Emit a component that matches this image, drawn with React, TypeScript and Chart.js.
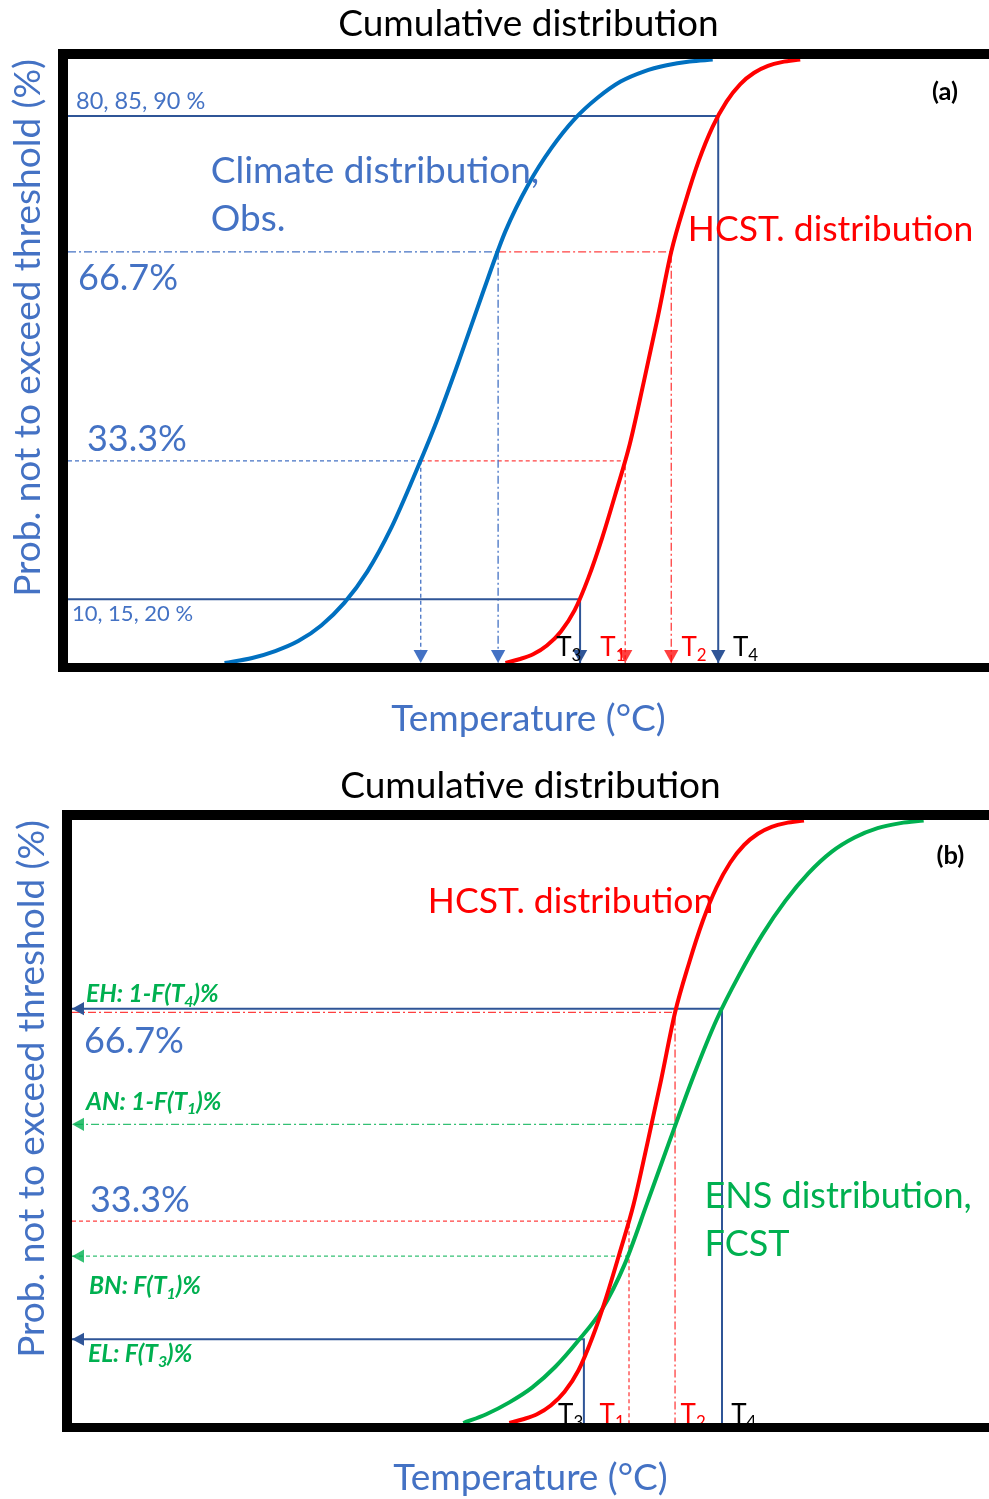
import React, { useEffect, useRef } from 'react';
import { Chart, registerables } from 'chart.js';

Chart.register(...registerables);

const FONT = 'Lato, "Open Sans", sans-serif';
const OBS_BLUE = '#0070C0';
const HCST_RED = '#FF0000';
const ENS_GREEN = '#00B050';
const GUIDE_BLUE = '#2F5597';
const TEXT_BLUE = '#4472C4';
const RED_THIN = 'rgba(255,0,0,0.75)';
const GREEN_THIN = 'rgba(0,176,80,0.8)';
const DASH = [4, 3];
const DASH_DOT = [8, 3, 2, 3];

// Axis ranges (probability in %, temperature in arbitrary units)
const PROB_MIN = 1;
const PROB_MAX = 97.5;
const TEMP_MIN = 0;
const TEMP_MAX_A = 100;
const TEMP_MAX_B = 99.6;

// Thresholds on the temperature axis
const T3 = 55.6;
const T1 = 60.5;
const T2 = 65.5;
const T4 = 70.6;

// Probability levels (%)
const TERCILE_LOW = 33.3;
const TERCILE_HIGH = 66.7;
const BAND_LOW = 11.2; // 10, 15, 20 %
const BAND_HIGH = 88.4; // 80, 85, 90 %
const OBS_AT_TERCILE_LOW = 38.3;
const OBS_AT_TERCILE_HIGH = 46.7;
const EH_LEVEL = 67.3;
const AN_LEVEL = 48.8;
const BN_LEVEL = 27.7;
const EL_LEVEL = 14.4;

// Cumulative distribution curves
const climateTemp = [17, 20, 22.5, 25, 27.5, 30, 32.5, 35, 37.5, 40, 42.5, 45, 47.5, 50, 52.5, 55, 57.5, 60, 62.5, 65, 67.5, 70];
const climateProb = [1.0, 1.8, 2.9, 4.5, 7.0, 10.6, 15.6, 22.3, 30.6, 39.5, 49.5, 60.0, 70.0, 77.5, 83.3, 87.9, 91.3, 93.9, 95.5, 96.5, 97.1, 97.4];
const hcstTemp = [47.5, 49, 50.5, 52, 53.5, 55, 56.5, 58, 59.5, 61, 62.5, 64, 65.5, 67, 68.5, 70, 71.5, 73, 74.5, 76, 77.5, 79.5];
const hcstProb = [1.0, 1.6, 2.4, 3.8, 6.0, 9.4, 14.6, 21.0, 28.3, 36.0, 45.8, 56.0, 66.7, 74.5, 81.3, 86.7, 90.7, 93.5, 95.3, 96.4, 97.0, 97.4];
const ensTemp = [42.5, 45, 47.5, 50, 52.5, 55, 57.5, 60, 62.5, 65, 67.5, 70, 72.5, 75, 77.5, 80, 82.5, 85, 87.5, 90, 92.5];
const ensProb = [1.0, 2.4, 4.3, 6.7, 10.0, 14.2, 19.0, 26.3, 36.3, 46.5, 56.5, 65.5, 72.8, 79.2, 84.6, 89.0, 92.4, 94.7, 96.2, 97.0, 97.4];

type Part = { t: string; sub?: boolean };
type Label = {
  x: number;
  y: number;
  parts: Part[];
  size: number;
  color: string;
  bold?: boolean;
  italic?: boolean;
};

const plain = (t: string): Part[] => [{ t }];
const tSub = (n: string): Part[] => [{ t: 'T' }, { t: n, sub: true }];

const labelsA: Label[] = [
  { x: 0.87, y: 90.8, parts: plain('80, 85, 90 %'), size: 23.5, color: TEXT_BLUE },
  { x: 15.5, y: 79.6, parts: plain('Climate distribution,'), size: 37, color: TEXT_BLUE },
  { x: 15.5, y: 71.9, parts: plain('Obs.'), size: 37, color: TEXT_BLUE },
  { x: 1.09, y: 62.4, parts: plain(`${TERCILE_HIGH}%`), size: 36, color: TEXT_BLUE },
  { x: 2.06, y: 36.8, parts: plain(`${TERCILE_LOW}%`), size: 36, color: TEXT_BLUE },
  { x: 67.3, y: 70.3, parts: plain('HCST. distribution'), size: 35.5, color: HCST_RED },
  { x: 0.43, y: 8.8, parts: plain('10, 15, 20 %'), size: 22, color: TEXT_BLUE },
  { x: 53.0, y: 3.4, parts: tSub('3'), size: 26, color: '#000' },
  { x: 57.8, y: 3.4, parts: tSub('1'), size: 26, color: HCST_RED },
  { x: 66.6, y: 3.4, parts: tSub('2'), size: 26, color: HCST_RED },
  { x: 72.2, y: 3.4, parts: tSub('4'), size: 26, color: '#000' },
  { x: 93.8, y: 92.2, parts: plain('(a)'), size: 25.5, bold: true, color: '#000' },
];

const labelsB: Label[] = [
  { x: 38.65, y: 84.4, parts: plain('HCST. distribution'), size: 35.5, color: HCST_RED },
  {
    x: 1.52, y: 69.6, size: 24.5, color: ENS_GREEN, bold: true, italic: true,
    parts: [{ t: 'EH: 1-F(T' }, { t: '4', sub: true }, { t: ')%' }],
  },
  { x: 1.3, y: 62.0, parts: plain(`${TERCILE_HIGH}%`), size: 36, color: TEXT_BLUE },
  {
    x: 1.52, y: 52.4, size: 24.5, color: ENS_GREEN, bold: true, italic: true,
    parts: [{ t: 'AN: 1-F(T' }, { t: '1', sub: true }, { t: ')%' }],
  },
  { x: 1.95, y: 36.7, parts: plain(`${TERCILE_LOW}%`), size: 36, color: TEXT_BLUE },
  {
    x: 1.85, y: 22.9, size: 24.5, color: ENS_GREEN, bold: true, italic: true,
    parts: [{ t: 'BN: F(T' }, { t: '1', sub: true }, { t: ')%' }],
  },
  {
    x: 1.74, y: 12.0, size: 24.5, color: ENS_GREEN, bold: true, italic: true,
    parts: [{ t: 'EL: F(T' }, { t: '3', sub: true }, { t: ')%' }],
  },
  { x: 68.7, y: 37.2, parts: plain('ENS distribution,'), size: 36, color: ENS_GREEN },
  { x: 68.7, y: 29.6, parts: plain('FCST'), size: 36, color: ENS_GREEN },
  { x: 52.8, y: 2.3, parts: tSub('3'), size: 26, color: '#000' },
  { x: 57.3, y: 2.3, parts: tSub('1'), size: 26, color: HCST_RED },
  { x: 66.1, y: 2.3, parts: tSub('2'), size: 26, color: HCST_RED },
  { x: 71.6, y: 2.3, parts: tSub('4'), size: 26, color: '#000' },
  { x: 93.9, y: 91.7, parts: plain('(b)'), size: 25.5, bold: true, color: '#000' },
];

const curve = (label: string, xs: number[], ys: number[], color: string) => ({
  label,
  data: xs.map((x, i) => ({ x, y: ys[i] })),
  borderColor: color,
  borderWidth: 4,
  pointRadius: 0,
  cubicInterpolationMode: 'monotone',
  fill: false,
});

const guide = (
  label: string,
  pts: [number, number][],
  color: string,
  width: number,
  dash: number[],
  arrow = 0,
) => ({
  label,
  data: pts.map(([x, y]) => ({ x, y })),
  borderColor: color,
  borderWidth: width,
  borderDash: dash,
  pointRadius: 0,
  tension: 0,
  fill: false,
  arrow,
});

function drawLabel(ctx: CanvasRenderingContext2D, chart: any, lab: Label) {
  let x = chart.scales.x.getPixelForValue(lab.x);
  const y = chart.scales.y.getPixelForValue(lab.y);
  const style = `${lab.italic ? 'italic ' : ''}${lab.bold ? 'bold ' : ''}`;
  ctx.textBaseline = 'middle';
  ctx.textAlign = 'left';
  ctx.fillStyle = lab.color;
  for (const p of lab.parts) {
    const size = p.sub ? lab.size * 0.65 : lab.size;
    ctx.font = `${style}${size}px ${FONT}`;
    ctx.fillText(p.t, x, p.sub ? y + lab.size * 0.3 : y);
    x += ctx.measureText(p.t).width;
  }
}

// Arrowheads, text annotations and the heavy black frame
const makeOverlay = (labels: Label[]) => ({
  id: 'overlay',
  afterDatasetsDraw(chart: any) {
    const { ctx, chartArea } = chart;
    ctx.save();
    chart.data.datasets.forEach((ds: any, i: number) => {
      if (!ds.arrow) return;
      const pts = chart.getDatasetMeta(i).data;
      const a = pts[pts.length - 2];
      const b = pts[pts.length - 1];
      const ang = Math.atan2(b.y - a.y, b.x - a.x);
      const L = ds.arrow;
      const W = ds.arrow * 0.55;
      const c = Math.cos(ang);
      const s = Math.sin(ang);
      ctx.fillStyle = ds.borderColor;
      ctx.beginPath();
      ctx.moveTo(b.x, b.y);
      ctx.lineTo(b.x - L * c + W * s, b.y - L * s - W * c);
      ctx.lineTo(b.x - L * c - W * s, b.y - L * s + W * c);
      ctx.closePath();
      ctx.fill();
    });
    labels.forEach((lab) => drawLabel(ctx, chart, lab));
    const { left, top, bottom } = chartArea;
    ctx.fillStyle = '#000';
    ctx.fillRect(left - 10, top - 10, chart.width - left + 10, 10);
    ctx.fillRect(left - 10, top - 10, 10, bottom - top + 19);
    ctx.fillRect(left - 10, bottom, chart.width - left + 10, 9);
    ctx.restore();
  },
});

type Layout = {
  xMax: number;
  titlePad: { top: number; bottom: number };
  xTitlePad: { top: number; bottom: number };
  yTitlePad: { top: number; bottom: number };
};

const makeConfig = (datasets: any[], labels: Label[], lay: Layout): any => ({
  type: 'line',
  data: { datasets },
  options: {
    responsive: false,
    animation: false,
    events: [],
    layout: { padding: 0 },
    plugins: {
      legend: { display: false },
      tooltip: { enabled: false },
      title: {
        display: true,
        text: 'Cumulative distribution',
        color: '#000',
        fullSize: false,
        font: { family: FONT, size: 37, weight: 'normal' },
        padding: lay.titlePad,
      },
    },
    scales: {
      x: {
        type: 'linear',
        min: TEMP_MIN,
        max: lay.xMax,
        grid: { display: false, drawTicks: false },
        border: { display: false },
        ticks: { display: false },
        title: {
          display: true,
          text: 'Temperature (°C)',
          color: TEXT_BLUE,
          font: { family: FONT, size: 37 },
          padding: lay.xTitlePad,
        },
      },
      y: {
        type: 'linear',
        min: PROB_MIN,
        max: PROB_MAX,
        grid: { display: false, drawTicks: false },
        border: { display: false },
        ticks: { display: false },
        title: {
          display: true,
          text: 'Prob. not to exceed threshold (%)',
          align: 'end',
          color: TEXT_BLUE,
          font: { family: FONT, size: 37 },
          padding: lay.yTitlePad,
        },
      },
    },
  },
  plugins: [makeOverlay(labels)],
});

const datasetsA = [
  curve('Climate distribution, Obs.', climateTemp, climateProb, OBS_BLUE),
  curve('HCST. distribution', hcstTemp, hcstProb, HCST_RED),
  guide('80, 85, 90 %', [[TEMP_MIN, BAND_HIGH], [T4, BAND_HIGH], [T4, PROB_MIN]], GUIDE_BLUE, 2, [], 13),
  guide('10, 15, 20 %', [[TEMP_MIN, BAND_LOW], [T3, BAND_LOW], [T3, PROB_MIN]], GUIDE_BLUE, 2, [], 13),
  guide('Obs. upper tercile', [[TEMP_MIN, TERCILE_HIGH], [OBS_AT_TERCILE_HIGH, TERCILE_HIGH]], TEXT_BLUE, 1.3, DASH_DOT),
  guide('Obs. upper tercile drop', [[OBS_AT_TERCILE_HIGH, TERCILE_HIGH], [OBS_AT_TERCILE_HIGH, PROB_MIN]], TEXT_BLUE, 1.3, DASH_DOT, 13),
  guide('T2', [[OBS_AT_TERCILE_HIGH, TERCILE_HIGH], [T2, TERCILE_HIGH], [T2, PROB_MIN]], RED_THIN, 1.3, DASH_DOT, 13),
  guide('Obs. lower tercile', [[TEMP_MIN, TERCILE_LOW], [OBS_AT_TERCILE_LOW, TERCILE_LOW]], TEXT_BLUE, 1.3, DASH),
  guide('Obs. lower tercile drop', [[OBS_AT_TERCILE_LOW, TERCILE_LOW], [OBS_AT_TERCILE_LOW, PROB_MIN]], TEXT_BLUE, 1.3, DASH, 13),
  guide('T1', [[OBS_AT_TERCILE_LOW, TERCILE_LOW], [T1, TERCILE_LOW], [T1, PROB_MIN]], RED_THIN, 1.3, DASH, 13),
];

const datasetsB = [
  curve('HCST. distribution', hcstTemp, hcstProb, HCST_RED),
  curve('ENS distribution, FCST', ensTemp, ensProb, ENS_GREEN),
  guide('EH', [[T4, PROB_MIN], [T4, EH_LEVEL], [TEMP_MIN, EH_LEVEL]], GUIDE_BLUE, 2, [], 12),
  guide('HCST upper tercile', [[TEMP_MIN, TERCILE_HIGH], [T2, TERCILE_HIGH], [T2, PROB_MIN]], RED_THIN, 1.3, DASH_DOT),
  guide('AN', [[T2, AN_LEVEL], [TEMP_MIN, AN_LEVEL]], GREEN_THIN, 1.3, DASH_DOT, 12),
  guide('HCST lower tercile', [[TEMP_MIN, TERCILE_LOW], [T1, TERCILE_LOW], [T1, PROB_MIN]], RED_THIN, 1.3, DASH),
  guide('BN', [[T1, BN_LEVEL], [TEMP_MIN, BN_LEVEL]], GREEN_THIN, 1.3, DASH, 12),
  guide('EL', [[T3, PROB_MIN], [T3, EL_LEVEL], [TEMP_MIN, EL_LEVEL]], GUIDE_BLUE, 2, [], 12),
];

const layoutA: Layout = {
  xMax: TEMP_MAX_A,
  titlePad: { top: 1.8, bottom: 12.8 },
  xTitlePad: { top: 33.8, bottom: 8.8 },
  yTitlePad: { top: 5.8, bottom: 17.8 },
};

const layoutB: Layout = {
  xMax: TEMP_MAX_B,
  titlePad: { top: 13.8, bottom: 11.8 },
  xTitlePad: { top: 32.8, bottom: 9.8 },
  yTitlePad: { top: 9.8, bottom: 17.8 },
};

function ChartPanel({ top, height, build }: { top: number; height: number; build: () => any }) {
  const ref = useRef<HTMLCanvasElement>(null);
  useEffect(() => {
    const chart = new Chart(ref.current as HTMLCanvasElement, build());
    return () => chart.destroy();
  }, []);
  return (
    <div style={{ position: 'absolute', left: 0, top, width: 989, height }}>
      <canvas ref={ref} width={989} height={height} style={{ display: 'block' }} />
    </div>
  );
}

export default function App() {
  return (
    <div
      style={{
        position: 'absolute',
        left: 0,
        top: 0,
        width: 989,
        height: 1499,
        overflow: 'hidden',
        background: '#fff',
      }}
    >
      <ChartPanel top={0} height={750} build={() => makeConfig(datasetsA, labelsA, layoutA)} />
      <ChartPanel top={750} height={760} build={() => makeConfig(datasetsB, labelsB, layoutB)} />
    </div>
  );
}
